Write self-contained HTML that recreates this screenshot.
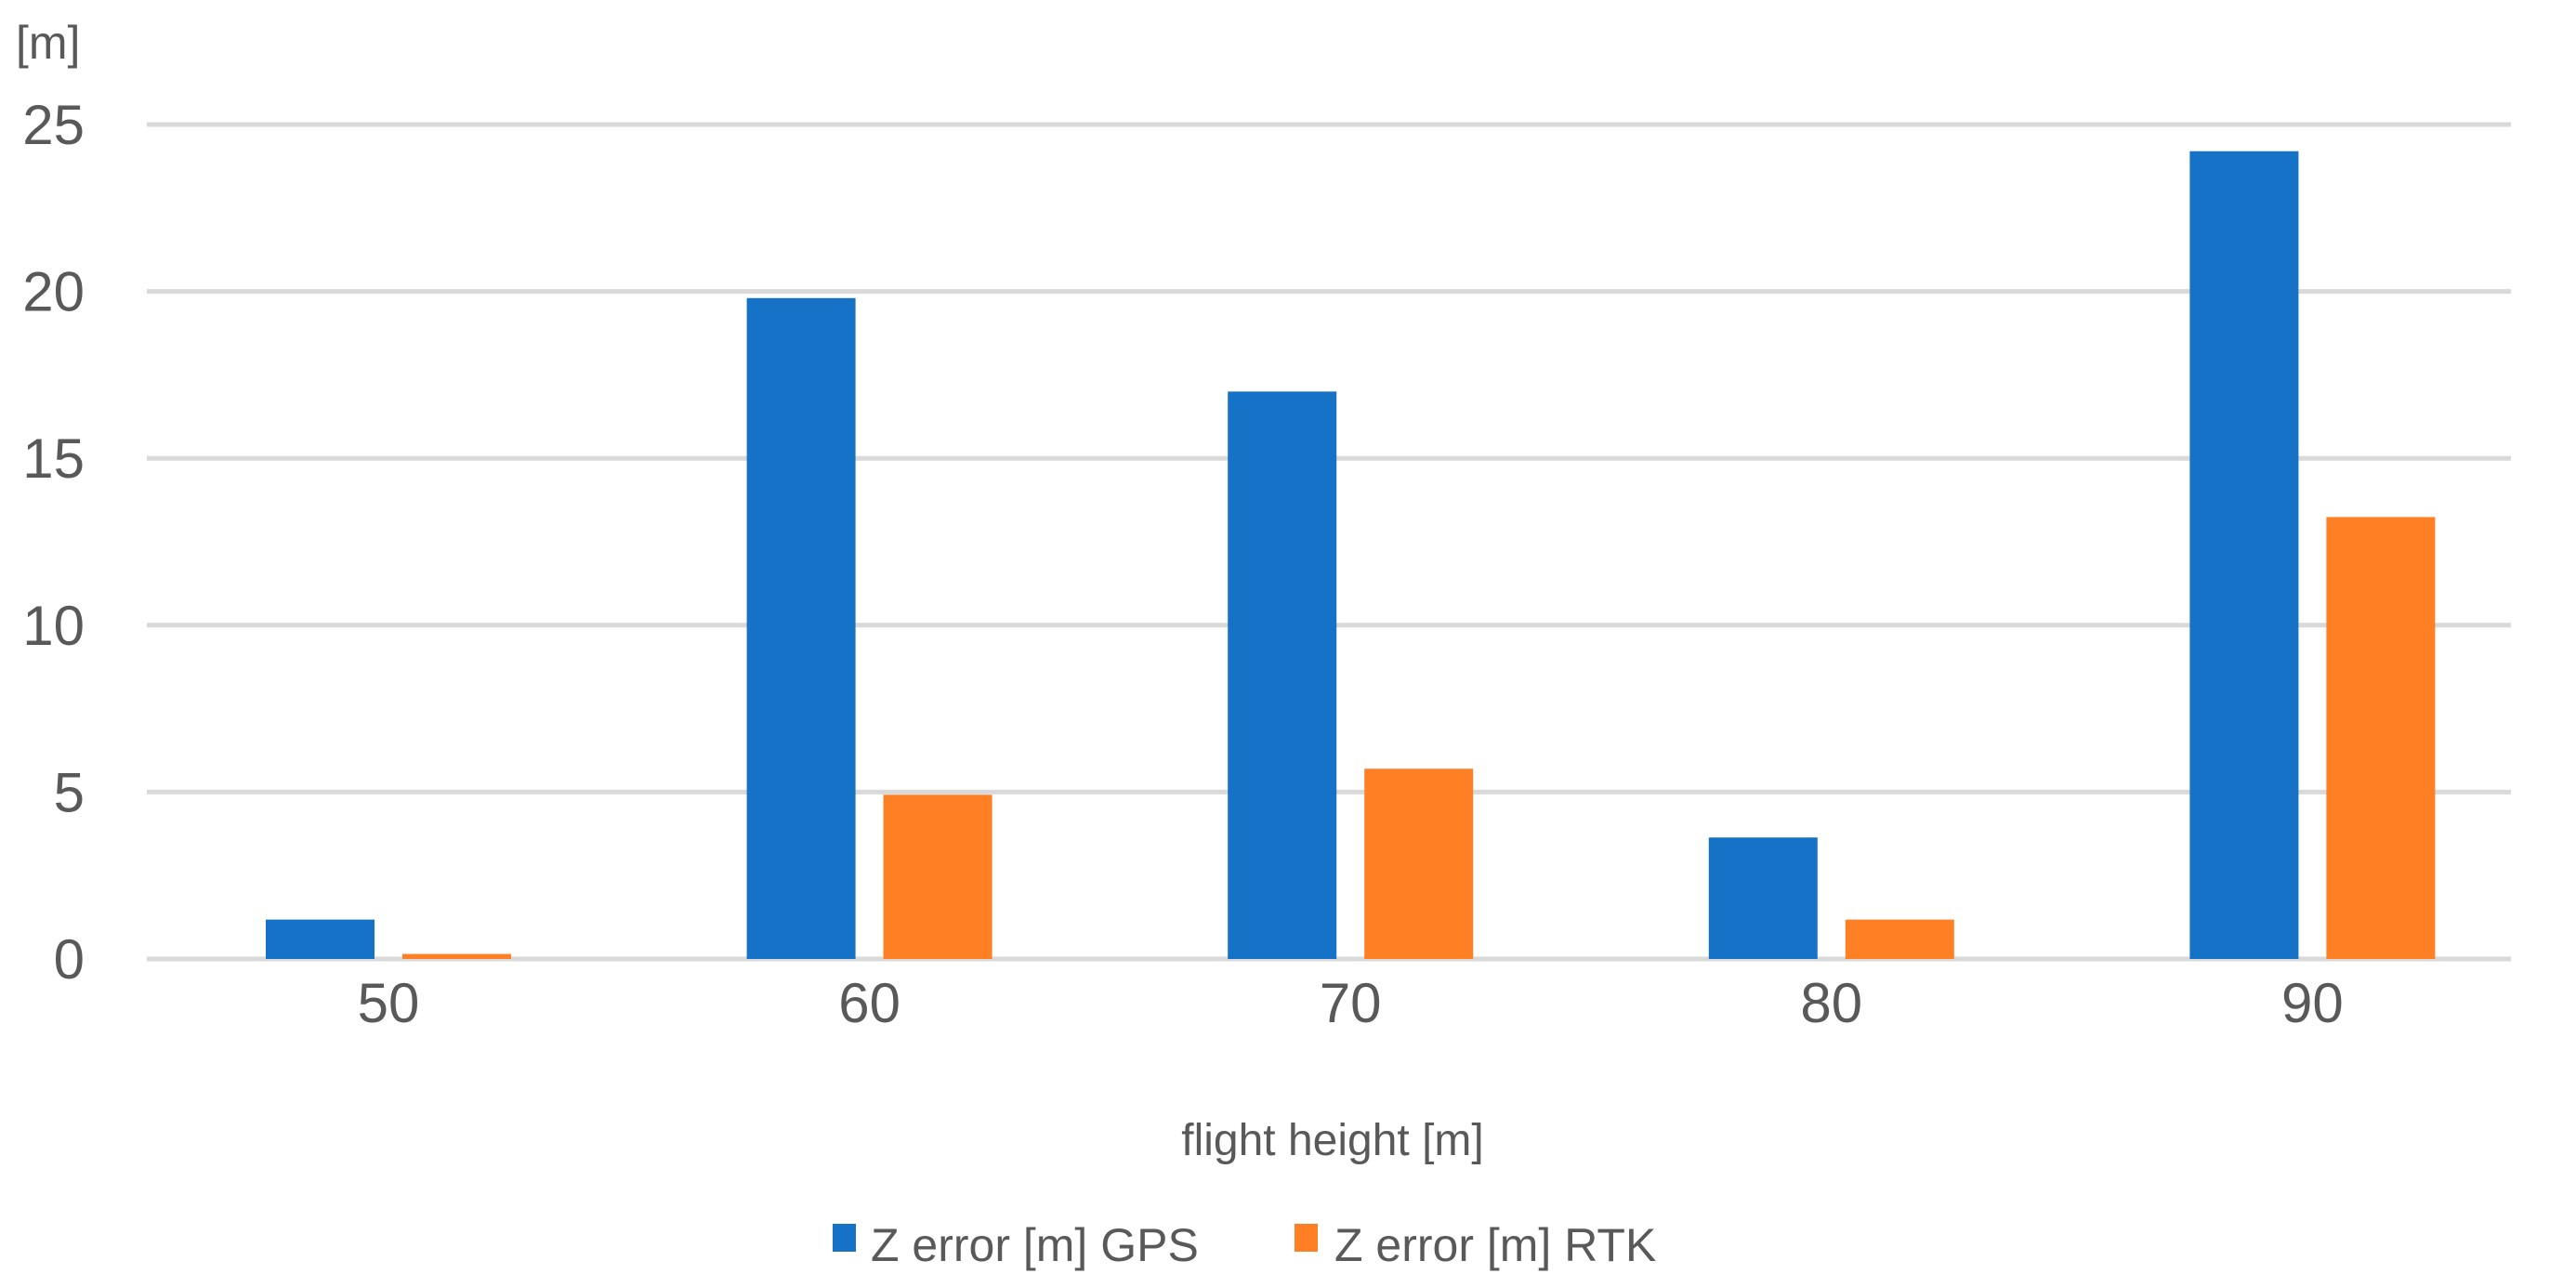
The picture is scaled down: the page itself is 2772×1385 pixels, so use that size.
<!DOCTYPE html>
<html><head><meta charset="utf-8"><style>
html,body{margin:0;padding:0;background:#fff;}
svg{display:block;font-family:"Liberation Sans",sans-serif;}
</style></head><body>
<svg id="chart" width="2772" height="1385" viewBox="0 0 2772 1385">
<text x="17" y="63" font-size="50" fill="#595959">[m]</text>
<g id="grid"></g>
<g id="yticks"></g>
<g id="bars"></g>
<g id="xticks"></g>
<text x="1434" y="1243" font-size="48" fill="#595959" text-anchor="middle">flight height [m]</text>
<g>
<g>
<rect x="896" y="1317" width="25" height="30" fill="#1672C7"></rect>
<text x="937" y="1357" font-size="50" fill="#595959">Z error [m] GPS</text>
</g>
<g>
<rect x="1393" y="1317" width="25" height="30" fill="#FF7F24"></rect>
<text x="1436" y="1357" font-size="50" fill="#595959">Z error [m] RTK</text>
</g>
</g>
</svg>
<script>
const categories = ["50","60","70","80","90"];
const gpsValues = [1.18, 19.8, 17.0, 3.64, 24.2];
const rtkValues = [0.15, 4.92, 5.7, 1.18, 13.24];
const yTicks = [0, 5, 10, 15, 20, 25];

const NS = "http://www.w3.org/2000/svg";
const plotLeft = 158, plotRight = 2702, plotTop = 134, plotBottom = 1032, yMax = 25;
const yScale = v => plotBottom - (v / yMax) * (plotBottom - plotTop);
const firstCenter = 418, band = 517.6;
const xCenter = i => firstCenter + band * i;
const barW = 117, gap = 30;

function mk(tag, attrs, parent) {
  const el = document.createElementNS(NS, tag);
  for (const k in attrs) el.setAttribute(k, attrs[k]);
  parent.appendChild(el);
  return el;
}
const grid = document.getElementById('grid');
const yt = document.getElementById('yticks');
yTicks.forEach(t => {
  const l = mk('line', {x1: plotLeft, x2: plotRight, y1: yScale(t), y2: yScale(t), stroke: '#d9d9d9', 'stroke-width': 5}, grid);
  
  
  const tx = mk('text', {x: 91, y: yScale(t) + 21, 'font-size': 60, fill: '#595959', 'text-anchor': 'end'}, yt);
  tx.textContent = t;
  
  
});
const bars = document.getElementById('bars');
const xt = document.getElementById('xticks');
categories.forEach((c, i) => {
  const cx = xCenter(i);
  const g = mk('rect', {x: cx - gap / 2 - barW, y: yScale(gpsValues[i]), width: barW, height: plotBottom - yScale(gpsValues[i]), fill: '#1672C7'}, bars);
  
  
  const r = mk('rect', {x: cx + gap / 2, y: yScale(rtkValues[i]), width: barW, height: plotBottom - yScale(rtkValues[i]), fill: '#FF7F24'}, bars);
  
  
  const tx = mk('text', {x: cx, y: 1100, 'font-size': 60, fill: '#595959', 'text-anchor': 'middle'}, xt);
  tx.textContent = c;
  
  
});
</script>
</body></html>
